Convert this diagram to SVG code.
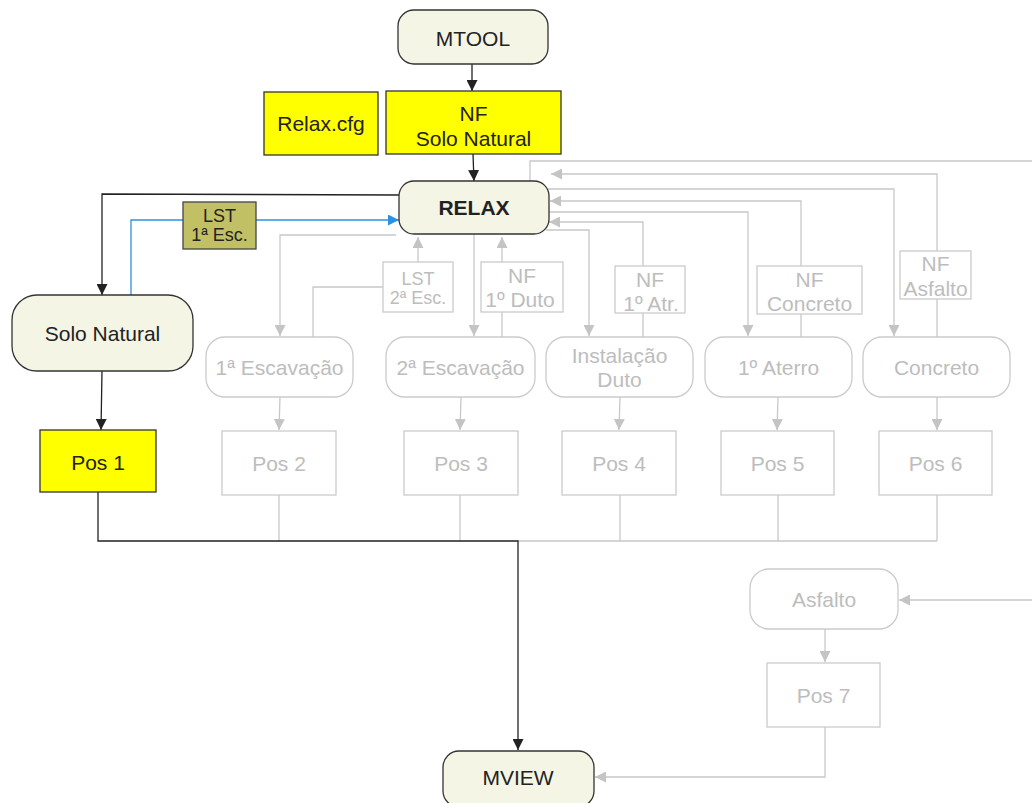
<svg xmlns="http://www.w3.org/2000/svg" width="1032" height="803" viewBox="0 0 1032 803">
<style>
text{font-family:"Liberation Sans",Arial,sans-serif;font-size:21px;text-anchor:middle}
.dk{fill:#222}
.gt{fill:#bdbdbd}
.sm{font-size:18px}
.bold{font-weight:bold}
.rn{fill:#f5f5e6;stroke:#333;stroke-width:1.3}
.yl{fill:#ffff00;stroke:#333;stroke-width:1.3}
.ol{fill:#c2c064;stroke:#444;stroke-width:1.3}
.gn{fill:#fff;stroke:#cbcbcb;stroke-width:1.3}
.cb{fill:none;stroke:#222;stroke-width:1.3}
.cg{fill:none;stroke:#c8c8c8;stroke-width:1.3}
.cu{fill:none;stroke:#2a92e2;stroke-width:1.3}
</style>
<defs>
<marker id="ab" markerUnits="userSpaceOnUse" markerWidth="11" markerHeight="11" viewBox="0 0 10 10" refX="10" refY="5" orient="auto"><path d="M0,0L10,5L0,10z" fill="#222"/></marker>
<marker id="ag" markerUnits="userSpaceOnUse" markerWidth="11" markerHeight="11" viewBox="0 0 10 10" refX="10" refY="5" orient="auto"><path d="M0,0L10,5L0,10z" fill="#c4c4c4"/></marker>
<marker id="au" markerUnits="userSpaceOnUse" markerWidth="11" markerHeight="11" viewBox="0 0 10 10" refX="10" refY="5" orient="auto"><path d="M0,0L10,5L0,10z" fill="#2a92e2"/></marker>
</defs>
<rect width="1032" height="803" fill="#fff"/>
<g id="connectors">
<path class="cg" d="M396,235L280,235L280,336" marker-end="url(#ag)"/>
<path class="cg" d="M313,337L313,287L383,287"/>
<path class="cg" d="M418,262L418,237" marker-end="url(#ag)"/>
<path class="cg" d="M474,234L474,336" marker-end="url(#ag)"/>
<path class="cg" d="M502,337L502,312"/>
<path class="cg" d="M502,262L502,237" marker-end="url(#ag)"/>
<path class="cg" d="M546,230L589,230L589,336" marker-end="url(#ag)"/>
<path class="cg" d="M643,337L643,313"/>
<path class="cg" d="M643,266L643,222L549,222" marker-end="url(#ag)"/>
<path class="cg" d="M549,212L748,212L748,336" marker-end="url(#ag)"/>
<path class="cg" d="M801,337L801,314"/>
<path class="cg" d="M801,266L801,201L550,201" marker-end="url(#ag)"/>
<path class="cg" d="M548,189L894,189L894,336" marker-end="url(#ag)"/>
<path class="cg" d="M937,337L937,299"/>
<path class="cg" d="M937,251L937,174L551,174" marker-end="url(#ag)"/>
<path class="cg" d="M530,182L530,161L1040,161L1040,600L899,600" marker-end="url(#ag)"/>
<path class="cg" d="M280,397L279,430" marker-end="url(#ag)"/>
<path class="cg" d="M461,397L460,430" marker-end="url(#ag)"/>
<path class="cg" d="M620,397L619,430" marker-end="url(#ag)"/>
<path class="cg" d="M778,397L777,430" marker-end="url(#ag)"/>
<path class="cg" d="M937,397L937,430" marker-end="url(#ag)"/>
<path class="cg" d="M279,495L279,541M460,495L460,541M518,541L937,541M620,495L620,541M778,495L778,541M937,495L937,541"/>
<path class="cg" d="M825,629L825,662" marker-end="url(#ag)"/>
<path class="cg" d="M825,727L825,777L595,777" marker-end="url(#ag)"/>
<path class="cb" d="M472,64L472,91" marker-end="url(#ab)"/>
<path class="cb" d="M473,154L474,181" marker-end="url(#ab)"/>
<path class="cb" d="M399,195L102,194L102,295" marker-end="url(#ab)"/>
<path class="cb" d="M102,371L101,430" marker-end="url(#ab)"/>
<path class="cb" d="M98,492L98,541L518,541L518,750" marker-end="url(#ab)"/>
<path class="cu" d="M131,295L131,220L183,220"/>
<path class="cu" d="M256,220L399,220" marker-end="url(#au)"/>
</g>
<g id="mtool"><rect class="rn" x="398" y="10" width="150" height="54" rx="16"/><text class="dk" x="473" y="46">MTOOL</text></g>
<g id="relaxcfg"><rect class="yl" x="264" y="92" width="114" height="63"/><text class="dk" x="321" y="131">Relax.cfg</text></g>
<g id="nf-solo"><rect class="yl" x="386" y="91" width="175" height="63"/><text class="dk" x="473.5" y="121">NF</text><text class="dk" x="473.5" y="146">Solo Natural</text></g>
<g id="relax"><rect class="rn" x="399" y="181" width="150" height="53" rx="15"/><text class="dk bold" x="474" y="215">RELAX</text></g>
<g id="lst1"><rect class="ol" x="183" y="202" width="73" height="47"/><text class="dk sm" x="219.5" y="222">LST</text><text class="dk sm" x="219.5" y="241">1ª Esc.</text></g>
<g id="solo"><rect class="rn" x="12" y="295" width="181" height="76" rx="25"/><text class="dk" x="102.5" y="341">Solo Natural</text></g>
<g id="pos1"><rect class="yl" x="40" y="430" width="116" height="62"/><text class="dk" x="98" y="470">Pos 1</text></g>
<g id="lst2"><rect class="gn" x="383" y="262" width="70" height="50"/><text class="gt sm" x="418" y="285">LST</text><text class="gt sm" x="418" y="304">2ª Esc.</text></g>
<g id="nf-duto"><rect class="gn" x="481" y="262" width="82" height="50"/><text class="gt" x="522" y="283">NF</text><text class="gt" x="520" y="306.5">1º Duto</text></g>
<g id="nf-atr"><rect class="gn" x="615" y="266" width="70" height="47"/><text class="gt" x="650" y="286.5">NF</text><text class="gt" x="651" y="311">1º Atr.</text></g>
<g id="nf-concreto"><rect class="gn" x="757" y="266" width="105" height="48"/><text class="gt" x="809.5" y="286.5">NF</text><text class="gt" x="809.5" y="311">Concreto</text></g>
<g id="nf-asfalto"><rect class="gn" x="900" y="251" width="71" height="48"/><text class="gt" x="935.5" y="271">NF</text><text class="gt" x="935.5" y="296">Asfalto</text></g>
<g id="esc1"><rect class="gn" x="206" y="337" width="147" height="60" rx="19"/><text class="gt" x="279.5" y="375">1ª Escavação</text></g>
<g id="esc2"><rect class="gn" x="386" y="337" width="149" height="60" rx="19"/><text class="gt" x="460.5" y="375">2ª Escavação</text></g>
<g id="inst"><rect class="gn" x="546" y="337" width="147" height="60" rx="19"/><text class="gt" x="619.5" y="363">Instalação</text><text class="gt" x="619.5" y="387">Duto</text></g>
<g id="aterro"><rect class="gn" x="705" y="337" width="147" height="60" rx="19"/><text class="gt" x="778.5" y="375">1º Aterro</text></g>
<g id="concreto"><rect class="gn" x="863" y="337" width="147" height="60" rx="19"/><text class="gt" x="936.5" y="375">Concreto</text></g>
<g id="pos2"><rect class="gn" x="222" y="431" width="114" height="64"/><text class="gt" x="279" y="471">Pos 2</text></g>
<g id="pos3"><rect class="gn" x="404" y="431" width="114" height="64"/><text class="gt" x="461" y="471">Pos 3</text></g>
<g id="pos4"><rect class="gn" x="562" y="431" width="114" height="64"/><text class="gt" x="619" y="471">Pos 4</text></g>
<g id="pos5"><rect class="gn" x="721" y="431" width="113" height="64"/><text class="gt" x="777.5" y="471">Pos 5</text></g>
<g id="pos6"><rect class="gn" x="879" y="431" width="113" height="64"/><text class="gt" x="935.5" y="471">Pos 6</text></g>
<g id="asfalto"><rect class="gn" x="750" y="569" width="148" height="60" rx="19"/><text class="gt" x="824" y="607">Asfalto</text></g>
<g id="pos7"><rect class="gn" x="767" y="663" width="113" height="64"/><text class="gt" x="823.5" y="703">Pos 7</text></g>
<g id="mview"><rect class="rn" x="443" y="751" width="151" height="56" rx="16"/><text class="dk" x="518" y="785">MVIEW</text></g>
</svg>
